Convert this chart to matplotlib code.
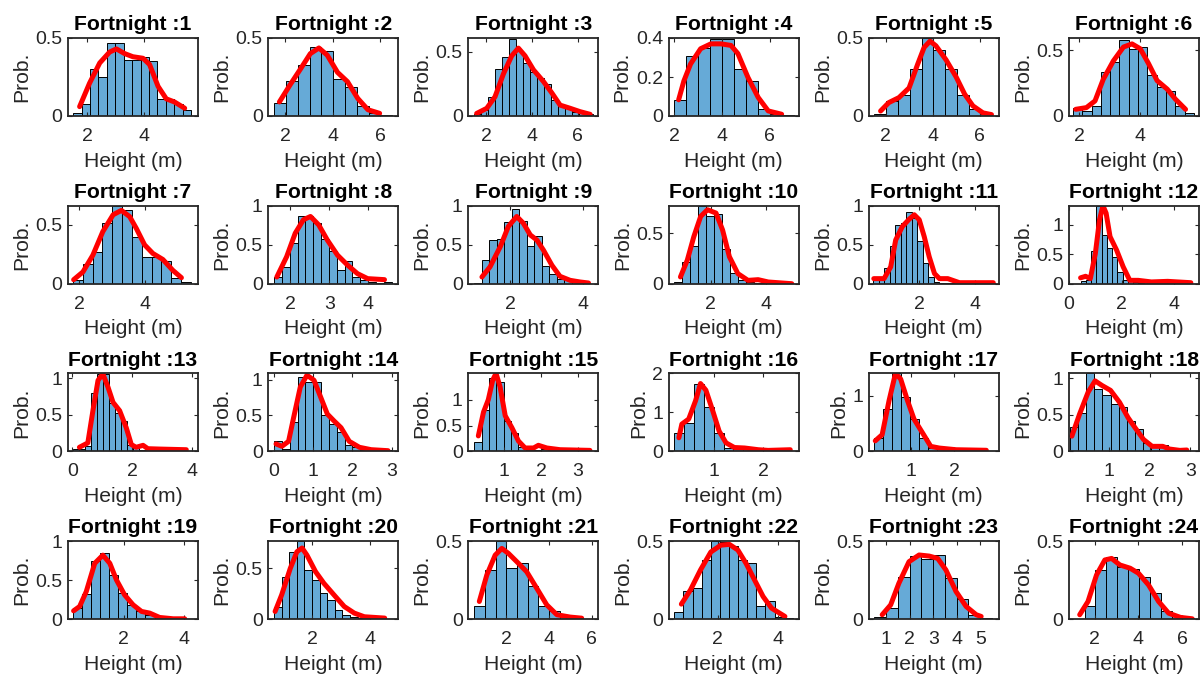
import matplotlib as mpl
mpl.use('Agg')
import matplotlib.pyplot as plt
import numpy as np

plt.rcParams['font.family'] = ['Liberation Sans', 'DejaVu Sans']

# histogram bins: start edge, bin width and probability of each bin
bin_start = [1.51, 1.54, 1.48, 2.0, 1.53, 1.80, 1.82, 1.59, 1.02, 0.667, 0.33, 0.44,
             0.04, 0.0, 0.19, 0.19, 0.13, 0.04, 0.32, 0.67, 0.51, 0.58, 0.5, 1.03]
bin_width = [0.298, 0.496, 0.306, 0.5, 0.5, 0.304, 0.296, 0.2, 0.205, 0.29, 0.2, 0.2,
             0.2, 0.2, 0.2, 0.2, 0.21, 0.2, 0.3, 0.265, 0.5, 0.3, 0.5, 0.5]
probs = [
    [0.02, 0.075, 0.30, 0.25, 0.47, 0.47, 0.357, 0.357, 0.38, 0.35, 0.106, 0.106, 0.08, 0.04],
    [0.081, 0.223, 0.325, 0.443, 0.417, 0.24, 0.187, 0.064, 0.02, 0.008],
    [0.016, 0.047, 0.15, 0.37, 0.46, 0.60, 0.51, 0.41, 0.345, 0.30, 0.25, 0.124, 0.085,
     0.06, 0.034, 0.02, 0.013],
    [0.083, 0.31, 0.348, 0.393, 0.393, 0.241, 0.181, 0.034, 0.009, 0.003],
    [0.011, 0.097, 0.134, 0.30, 0.50, 0.425, 0.30, 0.134, 0.047, 0.011],
    [0.064, 0.038, 0.077, 0.333, 0.41, 0.58, 0.513, 0.526, 0.31, 0.218, 0.187, 0.077, 0.026],
    [0.029, 0.166, 0.27, 0.52, 0.663, 0.63, 0.40, 0.23, 0.223, 0.194, 0.051, 0.014],
    [0.086, 0.216, 0.517, 0.862, 0.862, 0.784, 0.569, 0.422, 0.172, 0.293, 0.086, 0.043,
     0.022, 0.009, 0.02],
    [0.009, 0.30, 0.56, 0.57, 0.785, 0.957, 0.81, 0.48, 0.616, 0.228, 0.13, 0.065, 0.043,
     0.022, 0.009],
    [0.017, 0.217, 0.373, 0.773, 0.667, 0.693, 0.34, 0.107, 0.033, 0.017, 0.01, 0.005,
     0.003, 0.003, 0.003],
    [0.08, 0.07, 0.2, 0.48, 0.75, 0.78, 0.92, 0.84, 0.55, 0.27, 0.09, 0.02, 0.015, 0.01,
     0.01, 0.01, 0.008, 0.005, 0.005, 0.005, 0.005, 0.005],
    [0.05, 0.06, 0.55, 1.32, 0.83, 0.6, 0.45, 0.2, 0.07, 0.04, 0.03, 0.02, 0.03, 0.02,
     0.02, 0.02, 0.02, 0.01, 0.02, 0.01, 0.01],
    [0.037, 0.037, 0.07, 0.80, 1.05, 1.05, 0.66, 0.53, 0.42, 0.09, 0.055, 0.023, 0.02,
     0.01, 0.01, 0.01, 0.01, 0.01, 0.01],
    [0.15, 0.038, 0.415, 1.04, 0.97, 0.97, 0.5, 0.38, 0.274, 0.094, 0.057, 0.024, 0.01,
     0.01, 0.014],
    [0.18, 0.80, 1.43, 1.35, 0.59, 0.35, 0.08, 0.033, 0.033, 0.05, 0.02, 0.02, 0.01, 0.01,
     0.01, 0.01],
    [0.48, 0.74, 1.74, 1.15, 0.48, 0.087, 0.06, 0.05, 0.03, 0.03, 0.02, 0.02],
    [0.24, 0.76, 1.40, 0.98, 0.58, 0.24, 0.07, 0.05, 0.03, 0.02, 0.02, 0.01, 0.01],
    [0.333, 0.52, 1.065, 0.857, 0.764, 0.648, 0.60, 0.417, 0.30, 0.116, 0.056, 0.083,
     0.023, 0.01, 0.01],
    [0.14, 0.32, 0.745, 0.843, 0.566, 0.332, 0.183, 0.098, 0.055, 0.021, 0.013, 0.008],
    [0.124, 0.418, 0.663, 0.768, 0.484, 0.386, 0.255, 0.19, 0.092, 0.042, 0.016, 0.008,
     0.005, 0.003, 0.003],
    [0.087, 0.315, 0.5, 0.33, 0.357, 0.213, 0.081, 0.049, 0.011, 0.006, 0.003],
    [0.045, 0.18, 0.2, 0.378, 0.5, 0.496, 0.47, 0.378, 0.357, 0.081, 0.113, 0.011, 0.006],
    [0.011, 0.074, 0.272, 0.406, 0.385, 0.41, 0.266, 0.128, 0.028, 0.006],
    [0.002, 0.081, 0.315, 0.40, 0.336, 0.32, 0.272, 0.166, 0.049, 0.017, 0.006],
]

# fitted density curves (red)
curve_x = [
    [1.74, 2.09, 2.45, 2.80, 3.04, 3.33, 3.62, 3.98, 4.21, 4.51, 4.80, 5.09, 5.45],
    [1.76, 2.21, 2.64, 3.06, 3.42, 3.77, 4.20, 4.62, 5.05, 5.48, 5.97],
    [1.59, 2.03, 2.39, 2.76, 3.12, 3.41, 3.70, 4.07, 4.50, 4.87, 5.23, 5.67, 6.10, 6.54],
    [2.18, 2.40, 2.68, 3.10, 3.53, 3.95, 4.37, 4.66, 5.08, 5.51, 5.93, 6.49],
    [1.79, 2.14, 2.57, 3.0, 3.36, 3.64, 3.89, 4.14, 4.57, 5.0, 5.36, 5.71, 6.14, 6.5],
    [1.89, 2.24, 2.52, 2.79, 3.12, 3.45, 3.73, 4.0, 4.27, 4.55, 4.88, 5.15, 5.48],
    [1.84, 2.12, 2.42, 2.72, 3.03, 3.28, 3.53, 3.73, 3.98, 4.23, 4.53, 4.83, 5.09],
    [1.66, 1.91, 2.13, 2.34, 2.52, 2.73, 2.95, 3.21, 3.47, 3.72, 3.98, 4.41],
    [1.23, 1.45, 1.73, 1.95, 2.18, 2.36, 2.55, 2.73, 2.91, 3.14, 3.36, 3.64, 3.91, 4.14],
    [0.89, 1.14, 1.38, 1.63, 1.88, 2.19, 2.43, 2.68, 2.99, 3.36, 3.73, 4.10, 4.96],
    [0.36, 0.73, 0.97, 1.15, 1.39, 1.64, 1.82, 2.0, 2.18, 2.36, 2.55, 2.73, 3.03, 3.45, 4.67],
    [0.44, 0.63, 0.81, 1.0, 1.16, 1.29, 1.41, 1.56, 1.81, 2.06, 2.31, 2.63, 3.13, 3.75, 4.63],
    [0.24, 0.52, 0.69, 0.86, 1.02, 1.19, 1.36, 1.58, 1.80, 1.97, 2.13, 2.36, 2.52, 2.91, 3.80],
    [0.05, 0.20, 0.37, 0.5, 0.67, 0.84, 1.02, 1.19, 1.36, 1.53, 1.71, 1.92, 2.18, 2.48, 2.91],
    [0.30, 0.44, 0.57, 0.69, 0.78, 0.89, 1.03, 1.21, 1.39, 1.57, 1.80, 1.93, 2.16, 2.52, 3.33],
    [0.28, 0.34, 0.48, 0.62, 0.72, 0.83, 0.97, 1.10, 1.24, 1.41, 1.62, 1.90, 2.10, 2.55],
    [0.16, 0.32, 0.48, 0.63, 0.75, 0.91, 1.06, 1.26, 1.45, 1.65, 2.04, 2.74],
    [0.09, 0.28, 0.49, 0.66, 0.83, 1.04, 1.26, 1.47, 1.64, 1.85, 2.06, 2.32, 2.49, 2.74, 2.91],
    [0.34, 0.54, 0.76, 1.04, 1.31, 1.54, 1.76, 2.03, 2.31, 2.59, 2.86, 3.19, 3.64, 4.02],
    [0.71, 0.94, 1.24, 1.47, 1.65, 1.82, 2.12, 2.41, 2.76, 3.12, 3.47, 3.82, 4.53],
    [0.75, 1.10, 1.49, 1.80, 2.11, 2.50, 2.96, 3.43, 3.90, 4.37, 4.99, 5.53],
    [0.81, 1.11, 1.44, 1.78, 2.11, 2.39, 2.67, 2.94, 3.22, 3.5, 3.78, 4.22],
    [0.83, 1.19, 1.54, 1.97, 2.40, 2.83, 3.19, 3.54, 3.97, 4.40, 4.83, 5.04],
    [1.31, 1.69, 2.08, 2.46, 2.77, 3.15, 3.62, 4.0, 4.46, 4.92, 5.38, 5.92, 6.46],
]
curve_y = [
    [0.06, 0.21, 0.34, 0.41, 0.43, 0.40, 0.38, 0.37, 0.33, 0.19, 0.11, 0.09, 0.05],
    [0.09, 0.2, 0.30, 0.40, 0.436, 0.39, 0.28, 0.22, 0.113, 0.04, 0.017],
    [0.02, 0.06, 0.15, 0.33, 0.47, 0.53, 0.47, 0.36, 0.27, 0.18, 0.085, 0.06, 0.034, 0.013],
    [0.083, 0.18, 0.267, 0.345, 0.37, 0.37, 0.362, 0.32, 0.198, 0.095, 0.026, 0.009],
    [0.032, 0.086, 0.118, 0.18, 0.33, 0.44, 0.48, 0.45, 0.36, 0.25, 0.14, 0.065, 0.02, 0.009],
    [0.051, 0.064, 0.115, 0.28, 0.42, 0.526, 0.55, 0.513, 0.40, 0.27, 0.205, 0.128, 0.051],
    [0.034, 0.1, 0.243, 0.443, 0.586, 0.623, 0.57, 0.47, 0.33, 0.257, 0.206, 0.114, 0.051],
    [0.086, 0.345, 0.647, 0.82, 0.862, 0.754, 0.56, 0.366, 0.237, 0.129, 0.065, 0.052],
    [0.086, 0.216, 0.474, 0.733, 0.862, 0.776, 0.625, 0.56, 0.43, 0.237, 0.095, 0.043, 0.022,
     0.009],
    [0.067, 0.233, 0.467, 0.667, 0.733, 0.70, 0.533, 0.267, 0.1, 0.033, 0.04, 0.017, 0.0],
    [0.065, 0.065, 0.216, 0.56, 0.733, 0.828, 0.884, 0.82, 0.603, 0.345, 0.13, 0.065, 0.065,
     0.013, 0.013],
    [0.10, 0.126, 0.086, 0.51, 1.086, 1.326, 1.2, 0.8, 0.57, 0.286, 0.057, 0.057, 0.03, 0.04,
     0.017],
    [0.056, 0.116, 0.556, 0.97, 1.06, 0.88, 0.67, 0.556, 0.324, 0.093, 0.056, 0.083, 0.037,
     0.032, 0.023],
    [0.104, 0.071, 0.14, 0.472, 0.896, 1.06, 0.99, 0.755, 0.52, 0.425, 0.33, 0.14, 0.057,
     0.024, 0.01],
    [0.30, 0.76, 1.0, 1.38, 1.51, 1.25, 0.69, 0.46, 0.2, 0.066, 0.066, 0.118, 0.066, 0.033,
     0.02],
    [0.35, 0.70, 0.83, 1.3, 1.74, 1.57, 1.04, 0.52, 0.22, 0.10, 0.087, 0.043, 0.026, 0.043],
    [0.19, 0.30, 0.91, 1.40, 1.30, 0.91, 0.58, 0.33, 0.09, 0.06, 0.03, 0.02],
    [0.208, 0.51, 0.81, 0.963, 0.90, 0.833, 0.67, 0.46, 0.324, 0.162, 0.069, 0.069, 0.032,
     0.014, 0.019],
    [0.106, 0.162, 0.353, 0.715, 0.82, 0.715, 0.502, 0.31, 0.183, 0.098, 0.077, 0.021, 0.004,
     0.004],
    [0.075, 0.239, 0.5, 0.663, 0.70, 0.63, 0.467, 0.353, 0.239, 0.124, 0.059, 0.023, 0.01],
    [0.113, 0.283, 0.41, 0.453, 0.421, 0.368, 0.304, 0.198, 0.091, 0.028, 0.013, 0.006],
    [0.096, 0.187, 0.315, 0.43, 0.474, 0.479, 0.443, 0.357, 0.251, 0.145, 0.07, 0.017],
    [0.028, 0.091, 0.23, 0.368, 0.411, 0.404, 0.389, 0.315, 0.177, 0.081, 0.028, 0.017],
    [0.028, 0.113, 0.283, 0.379, 0.389, 0.347, 0.326, 0.294, 0.219, 0.113, 0.038, 0.011,
     0.002],
]

# axis limits and ticks per panel
x_lims = [(1.33, 5.92), (1.29, 6.75), (1.23, 6.90), (1.76, 7.2), (1.29, 6.81), (1.67, 5.92),
          (1.67, 5.59), (1.44, 4.76), (0.86, 4.41), (0.457, 5.21), (0.18, 4.87), (0.03, 4.94),
          (-0.14, 4.19), (-0.15, 3.17), (0.03, 3.56), (0.07, 2.72), (0.01, 3.03), (0.02, 3.21),
          (0.155, 4.46), (0.47, 5.0), (0.24, 6.31), (0.39, 4.67), (0.26, 5.79), (0.82, 6.77)]
y_tops = [0.5, 0.5, 0.609, 0.4, 0.5, 0.595, 0.663, 1.0, 1.0, 0.773, 1.0, 1.326,
          1.065, 1.085, 1.51, 2.0, 1.40, 1.065, 1.0, 0.768, 0.5, 0.5, 0.5, 0.5]
x_ticks = [[2, 4], [2, 4, 6], [2, 4, 6], [2, 4, 6], [2, 4, 6], [2, 4],
           [2, 4], [2, 3, 4], [2, 4], [2, 4], [2, 4], [0, 2, 4],
           [0, 2, 4], [0, 1, 2, 3], [1, 2, 3], [1, 2], [1, 2], [1, 2, 3],
           [2, 4], [2, 4], [2, 4, 6], [2, 4], [1, 2, 3, 4, 5], [2, 4, 6]]
y_ticks = [[0, 0.5], [0, 0.5], [0, 0.5], [0, 0.2, 0.4], [0, 0.5], [0, 0.5],
           [0, 0.5], [0, 0.5, 1], [0, 0.5, 1], [0, 0.5], [0, 0.5, 1], [0, 0.5, 1],
           [0, 0.5, 1], [0, 0.5, 1], [0, 0.5, 1], [0, 1, 2], [0, 1], [0, 0.5, 1],
           [0, 0.5, 1], [0, 0.5], [0, 0.5], [0, 0.5], [0, 0.5], [0, 0.5]]

bar_color = (0.4, 0.668, 0.845)
text_color = '#262626'

fig = plt.figure(figsize=(12.03, 6.76), dpi=100)
W, H = 1203.0, 676.0

for i in range(24):
    row, col = i // 6, i % 6
    left = (68 + col * 200.2) / W
    top = 38 + row * 167.7
    ax = fig.add_axes([left, 1 - (top + 78) / H, 130 / W, 78 / H])

    edges = bin_start[i] + bin_width[i] * np.arange(len(probs[i]))
    ax.bar(edges, probs[i], width=bin_width[i], align='edge',
           color=bar_color, edgecolor='black', linewidth=0.7)
    ax.plot(curve_x[i], curve_y[i], color='red', linewidth=3.6,
            solid_capstyle='round', solid_joinstyle='round')

    ax.set_xlim(x_lims[i])
    ax.set_ylim(0, y_tops[i])
    ax.set_xticks(x_ticks[i])
    ax.set_yticks(y_ticks[i])
    ax.set_yticklabels(['%g' % v for v in y_ticks[i]])
    ax.tick_params(direction='in', top=True, right=True, length=3, width=0.8,
                   labelsize=14, colors=text_color)
    ax.tick_params(axis='x', pad=8.5)
    ax.tick_params(axis='y', pad=4)
    for s in ax.spines.values():
        s.set_linewidth(1.3)
        s.set_color(text_color)

    ax.set_title('Fortnight :%d' % (i + 1), fontsize=15.2, fontweight='bold', pad=5.5)
    ax.set_xlabel('Height (m)', fontsize=15.2, color=text_color, labelpad=5)
    ax.set_ylabel('Prob.', fontsize=15.2, color=text_color, labelpad=3)

fig.savefig('out.png', dpi=100)
